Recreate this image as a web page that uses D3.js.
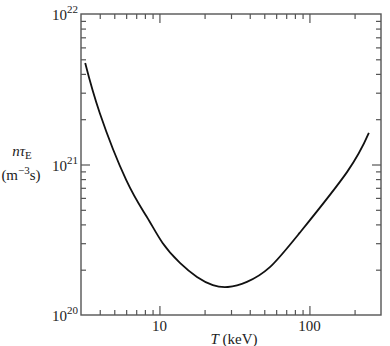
<!DOCTYPE html>
<html>
<head>
<meta charset="utf-8">
<script src="https://cdn.jsdelivr.net/npm/d3@7"></script>
<style>
  body { margin: 0; background: #fff; }
  svg { display: block; }
  text { font-family: "Liberation Serif", "Times New Roman", Times, serif; }
  .axis path { stroke: #555; stroke-width: 1.4; }
  .axis line { stroke: #555; stroke-width: 1.2; }
</style>
</head>
<body>
<svg id="chart" width="390" height="346"></svg>
<script>
// temperature T (keV) and n*tauE (m^-3 s)
const temps = [3.2, 4.0, 6.0, 8.25, 10.5, 13.7, 17.8, 22.7, 28.6, 38.3, 54.5, 86, 178, 249];
const ntau  = [4.72e21, 2.2e21, 7.9e20, 4.48e20, 3.01e20, 2.22e20, 1.79e20, 1.58e20, 1.535e20, 1.66e20, 2.08e20, 3.51e20, 8.9e20, 1.62e21];

const xMajor = [10, 100];
const xMinor = [4, 5, 6, 7, 8, 9, 20, 30, 40, 50, 60, 70, 80, 90, 200];
const yMajor = [1e21];
const yMinor = [2e20, 3e20, 4e20, 5e20, 6e20, 7e20, 8e20, 9e20, 2e21, 3e21, 4e21, 5e21, 6e21, 7e21, 8e21, 9e21];
const yLabels = [[1e20, "20"], [1e21, "21"], [1e22, "22"]];

const svg = d3.select("#chart");
const mLeft = 81, mRight = 381, mTop = 14, mBottom = 315;

const x = d3.scaleLog().domain([3, 300]).range([mLeft, mRight]);
const y = d3.scaleLog().domain([1e20, 1e22]).range([mBottom, mTop]);

// frame
svg.append("rect")
  .attr("x", mLeft).attr("y", mTop)
  .attr("width", mRight - mLeft).attr("height", mBottom - mTop)
  .attr("fill", "none").attr("stroke", "#555").attr("stroke-width", 1.4);

// inward ticks on all four sides
function ticks(axisFn, scale, vals, len, tr) {
  svg.append("g").attr("class", "axis")
    .attr("transform", tr)
    .call(axisFn(scale).tickValues(vals).tickSize(-len).tickFormat(""))
    .call(g => g.select(".domain").remove());
}
ticks(d3.axisBottom, x, xMinor, 5, `translate(0,${mBottom})`);
ticks(d3.axisBottom, x, xMajor, 9, `translate(0,${mBottom})`);
ticks(d3.axisTop, x, xMinor, 5, `translate(0,${mTop})`);
ticks(d3.axisTop, x, xMajor, 9, `translate(0,${mTop})`);
ticks(d3.axisLeft, y, yMinor, 5, `translate(${mLeft},0)`);
ticks(d3.axisLeft, y, yMajor, 9, `translate(${mLeft},0)`);
ticks(d3.axisRight, y, yMinor, 5, `translate(${mRight},0)`);
ticks(d3.axisRight, y, yMajor, 9, `translate(${mRight},0)`);

// y labels 10^n
yLabels.forEach(([v, p]) => {
  const t = svg.append("text")
    .attr("x", mLeft - 3).attr("y", y(v) + 6)
    .attr("text-anchor", "end").attr("font-size", 15).attr("fill", "#222");
  t.append("tspan").text("10");
  t.append("tspan").attr("dy", -7).attr("font-size", 11).text(p);
});

// x labels
xMajor.forEach(v => {
  svg.append("text")
    .attr("x", x(v)).attr("y", 331)
    .attr("text-anchor", "middle").attr("font-size", 15).attr("fill", "#222")
    .text(v);
});

const xt = svg.append("text").attr("x", 234).attr("y", 344)
  .attr("text-anchor", "middle").attr("font-size", 15).attr("fill", "#222");
xt.append("tspan").attr("font-style", "italic").text("T");
xt.append("tspan").text(" (keV)");

// y title
const yt = svg.append("text").attr("x", 22).attr("y", 156)
  .attr("text-anchor", "middle").attr("font-size", 15).attr("fill", "#222");
yt.append("tspan").attr("font-style", "italic").text("nτ");
yt.append("tspan").attr("dy", 3).attr("font-size", 11).text("E");

const yu = svg.append("text").attr("x", 21).attr("y", 180)
  .attr("text-anchor", "middle").attr("font-size", 15).attr("fill", "#222");
yu.append("tspan").text("(m");
yu.append("tspan").attr("dy", -6).attr("font-size", 11).text("−3");
yu.append("tspan").attr("dy", 6).text("s)");

// curve
const line = d3.line()
  .x((d, i) => x(temps[i]))
  .y(d => y(d))
  .curve(d3.curveNatural);

svg.append("path")
  .datum(ntau)
  .attr("d", line)
  .attr("fill", "none")
  .attr("stroke", "#111")
  .attr("stroke-width", 1.8);
</script>
</body>
</html>
